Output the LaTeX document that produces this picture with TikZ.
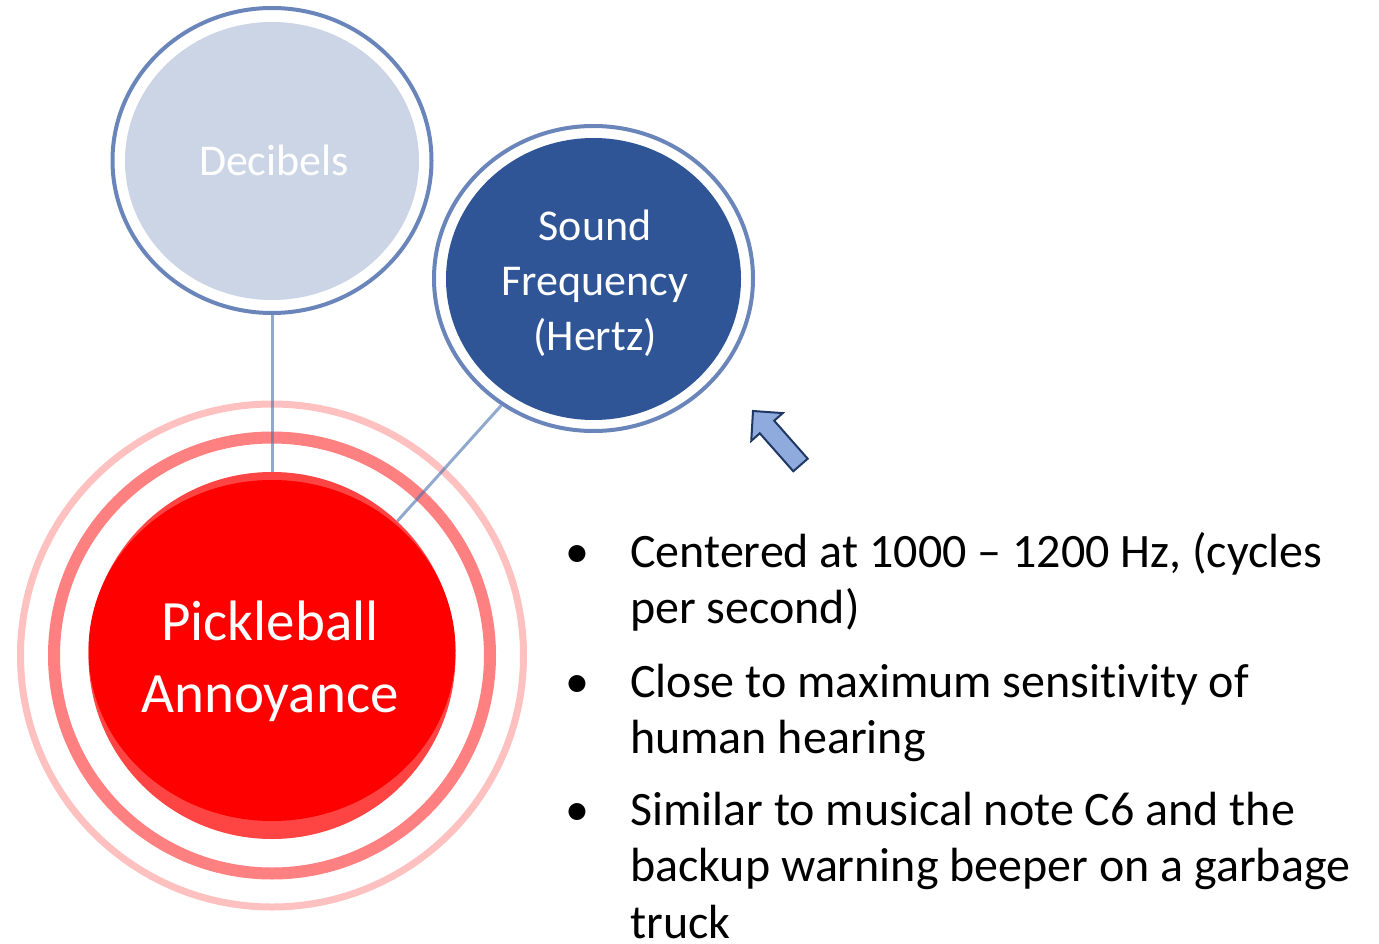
\documentclass[tikz,border=0pt]{standalone}
\usepackage{fontspec}
\setmainfont{Carlito}[Ligatures=NoCommon]
\usetikzlibrary{shapes.geometric,backgrounds}

\definecolor{ringblue}{HTML}{6A85BA}
\definecolor{decfill}{HTML}{CBD5E6}
\definecolor{freqfill}{HTML}{2F5597}
\definecolor{connblue}{HTML}{4A6FAE}
\definecolor{hotred}{HTML}{FE0000}
\definecolor{rimred}{HTML}{FF4444}
\definecolor{midpink}{HTML}{FF8080}
\definecolor{outpink}{HTML}{FFC0C0}
\definecolor{arrowfill}{HTML}{8FAADC}
\definecolor{arrowline}{HTML}{1F3864}

\tikzset{
  ringnode/.style={ellipse, draw=ringblue, line width=4pt, fill=white, inner sep=0pt},
  discnode/.style={ellipse, inner sep=0pt},
  halo/.style={circle, inner sep=0pt},
  conn/.style={draw=connblue, line width=3pt, draw opacity=0.6},
  whitetext/.style={text=white, inner sep=0pt, align=center},
  bullettext/.style={inner sep=0pt, align=left, font=\fontsize{48}{56.5}\selectfont},
  dot/.style={inner sep=0pt, font=\fontsize{48}{56.5}\selectfont},
}

\begin{document}
\begin{tikzpicture}[x=1pt, y=-1pt]
\useasboundingbox (0,0) rectangle (1379,944);

% central red disc with its lighter rim
\node[halo, fill=rimred, minimum size=367pt] (pick) at (272,655.5) {};
\node[discnode, fill=hotred, minimum width=367pt, minimum height=341pt] (pickcore) at (272,650.5) {};
% multi-line nodes: the base anchor sits on the last line
\node[whitetext, anchor=base, font=\fontsize{57}{72.4}\selectfont] (picktext) at (270,712.7) {Pickleball\\Annoyance};

% Decibels bubble
\node[ringnode, minimum width=319pt, minimum height=305pt] (decring) at (272,160.5) {};
\node[discnode, fill=decfill, minimum width=294pt, minimum height=278pt] (dec) at (272,161) {};
\node[whitetext, anchor=base, font=\fontsize{44}{53}\selectfont] (dectext) at (274,175.7) {Decibels};

% Sound frequency bubble
\node[ringnode, minimum width=319pt, minimum height=305pt] (freqring) at (593.5,278.5) {};
\node[discnode, fill=freqfill, minimum width=295pt, minimum height=282pt] (freq) at (593.5,279) {};
\node[whitetext, anchor=base, font=\fontsize{44}{55}\selectfont] (freqtext) at (595,350) {Sound\\Frequency\\(Hertz)};

% halos and connectors behind the bubbles
\begin{pgfonlayer}{background}
  \node[halo, draw=outpink, line width=7pt, minimum size=503pt] (haloout) at (272,655.5) {};
  \node[halo, draw=midpink, line width=12pt, minimum size=436pt] (halomid) at (272,655.5) {};
  \draw[conn] (decring.south) -- (pick.north);
  \draw[conn] (freqring.234) -- (pick.47);
\end{pgfonlayer}

% block arrow pointing at the frequency bubble
\draw[fill=arrowfill, draw=arrowline, line width=2pt, line join=miter]
  (807.7,458.7) -- (774.2,420.7) -- (782.75,413.1) -- (753,411)
  -- (751.25,440.9) -- (759.8,433.3) -- (793.3,471.3) -- cycle;

% bullet list
\node[dot, anchor=base] (d1) at (577,567.3) {•};
\node[bullettext, anchor=base west] (b1) at (630,623.8) {Centered at 1000 – 1200 Hz, (cycles\\per second)};
\node[dot, anchor=base] (d2) at (577,697.3) {•};
\node[bullettext, anchor=base west] (b2) at (630,753.8) {Close to maximum sensitivity of\\human hearing};
\node[dot, anchor=base] (d3) at (577,825.3) {•};
\node[bullettext, anchor=base west] (b3) at (630,938.3) {Similar to musical note C6 and the\\backup warning beeper on a garbage\\truck};
\end{tikzpicture}
\end{document}
